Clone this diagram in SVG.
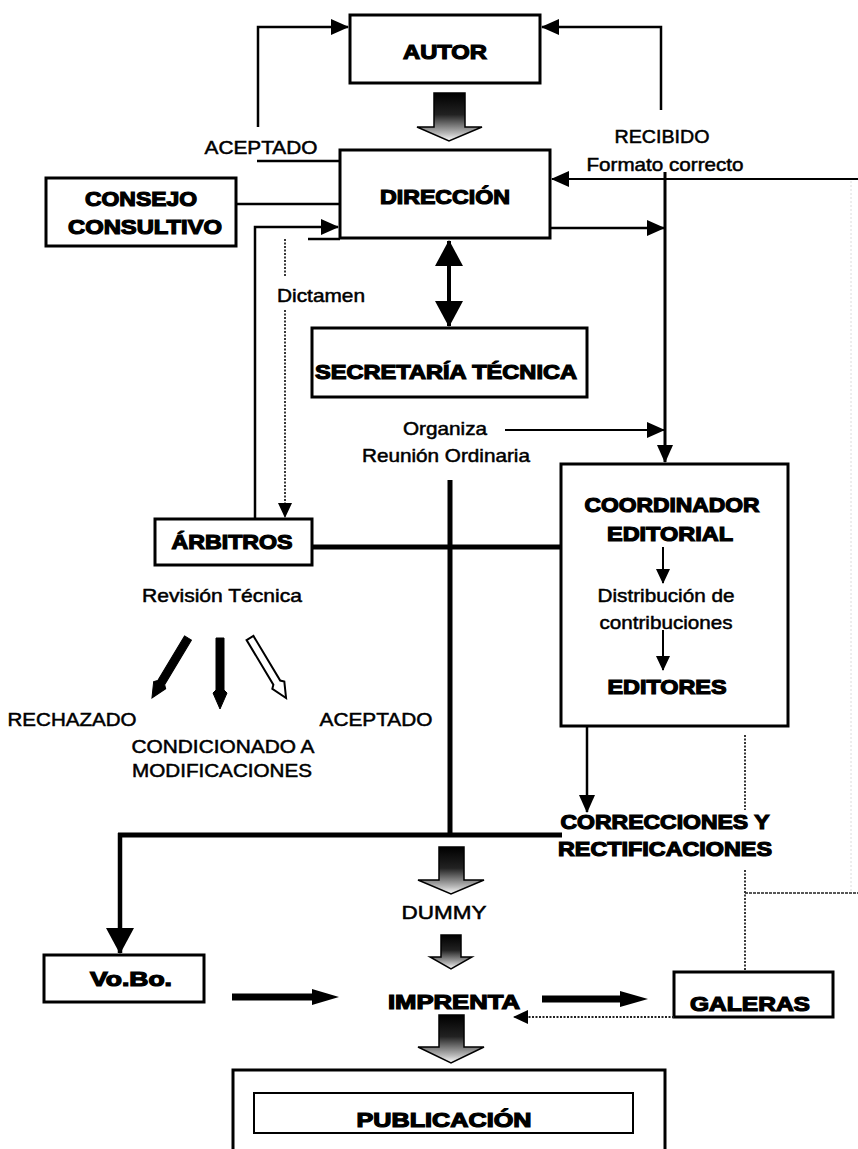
<svg xmlns="http://www.w3.org/2000/svg" width="858" height="1149" viewBox="0 0 858 1149">
<style>
.box{fill:#fff;stroke:#000;stroke-width:3}
.hb{font-family:"Liberation Sans",Arial,sans-serif;font-weight:bold;font-size:20px;fill:#000;stroke:#000;stroke-width:1.2;text-anchor:middle}
.tr{font-family:"Liberation Sans",Arial,sans-serif;font-size:18.5px;fill:#000;stroke:#000;stroke-width:0.5;text-anchor:middle}
.ln{fill:none;stroke:#000;stroke-width:2.5}
.thk{fill:none;stroke:#000;stroke-width:5}
.dot{fill:none;stroke:#222;stroke-width:1.8;stroke-dasharray:2 1.5}
.blk{stroke:#000;stroke-width:1.5;fill:url(#grad)}
</style>
<defs>
<linearGradient id="grad" x1="0" y1="0" x2="0" y2="1">
<stop offset="0" stop-color="#000"/>
<stop offset="0.45" stop-color="#222"/>
<stop offset="0.85" stop-color="#bbb"/>
<stop offset="1" stop-color="#fff"/>
</linearGradient>
<marker id="ah" markerUnits="userSpaceOnUse" viewBox="0 0 18 16" markerWidth="18" markerHeight="16" refX="17" refY="8" orient="auto"><path d="M0,0 L18,8 L0,16 z" fill="#000"/></marker>
<marker id="ahs" markerUnits="userSpaceOnUse" viewBox="0 0 15 14" markerWidth="15" markerHeight="14" refX="14" refY="7" orient="auto"><path d="M0,0 L15,7 L0,14 z" fill="#000"/></marker>
<marker id="ahb" markerUnits="userSpaceOnUse" viewBox="0 0 26 28" markerWidth="26" markerHeight="28" refX="25" refY="14" orient="auto-start-reverse"><path d="M0,0 L26,14 L0,28 z" fill="#000"/></marker>
</defs>
<rect width="858" height="1149" fill="#fff"/>

<g id="autor">
  <rect class="box" x="350" y="15" width="190" height="68"/>
  <text class="hb" x="445" y="59" textLength="84" lengthAdjust="spacingAndGlyphs">AUTOR</text>
</g>
<g id="direccion">
  <rect class="box" x="340" y="150" width="210" height="88"/>
  <text class="hb" x="445" y="204" textLength="130" lengthAdjust="spacingAndGlyphs">DIRECCIÓN</text>
</g>
<g id="consejo">
  <rect class="box" x="46" y="178" width="190" height="68"/>
  <text class="hb" x="141" y="206" textLength="112" lengthAdjust="spacingAndGlyphs">CONSEJO</text>
  <text class="hb" x="145" y="234" textLength="154" lengthAdjust="spacingAndGlyphs">CONSULTIVO</text>
</g>
<g id="secretaria">
  <rect class="box" x="312" y="328" width="275" height="69"/>
  <text class="hb" x="446" y="379" textLength="262" lengthAdjust="spacingAndGlyphs">SECRETARÍA TÉCNICA</text>
</g>
<g id="arbitros">
  <rect class="box" x="155" y="519" width="157" height="46"/>
  <text class="hb" x="232" y="549" textLength="121" lengthAdjust="spacingAndGlyphs">ÁRBITROS</text>
</g>
<g id="coordinador">
  <rect class="box" x="561" y="464" width="227" height="262"/>
  <text class="hb" x="672" y="512" textLength="175" lengthAdjust="spacingAndGlyphs">COORDINADOR</text>
  <text class="hb" x="670" y="541" textLength="126" lengthAdjust="spacingAndGlyphs">EDITORIAL</text>
  <text class="tr" x="666" y="602" textLength="137" lengthAdjust="spacingAndGlyphs">Distribución de</text>
  <text class="tr" x="666" y="629" textLength="133" lengthAdjust="spacingAndGlyphs">contribuciones</text>
  <text class="hb" x="667" y="694" textLength="119" lengthAdjust="spacingAndGlyphs">EDITORES</text>
</g>
<g id="correcciones">
  <text class="hb" x="665" y="829" textLength="209" lengthAdjust="spacingAndGlyphs">CORRECCIONES Y</text>
  <text class="hb" x="665" y="856" textLength="214" lengthAdjust="spacingAndGlyphs">RECTIFICACIONES</text>
</g>
<g id="vobo">
  <rect class="box" x="44" y="955" width="160" height="47"/>
  <text class="hb" x="131" y="986" textLength="82" lengthAdjust="spacingAndGlyphs">Vo.Bo.</text>
</g>
<g id="dummy">
  <text class="tr" x="444" y="919" textLength="85" lengthAdjust="spacingAndGlyphs">DUMMY</text>
</g>
<g id="imprenta">
  <text class="hb" x="454" y="1009" textLength="132" lengthAdjust="spacingAndGlyphs">IMPRENTA</text>
</g>
<g id="galeras">
  <rect class="box" x="674" y="972" width="159" height="45"/>
  <text class="hb" x="750" y="1011" textLength="120" lengthAdjust="spacingAndGlyphs">GALERAS</text>
</g>
<g id="publicacion">
  <rect class="box" x="233" y="1070" width="432" height="90"/>
  <rect fill="#fff" stroke="#000" stroke-width="2" x="254" y="1093" width="379" height="40"/>
  <text class="hb" x="444" y="1127" textLength="175" lengthAdjust="spacingAndGlyphs">PUBLICACIÓN</text>
</g>
<g id="labels">
  <text class="tr" x="261" y="154" textLength="113" lengthAdjust="spacingAndGlyphs">ACEPTADO</text>
  <text class="tr" x="662" y="143" textLength="95" lengthAdjust="spacingAndGlyphs">RECIBIDO</text>
  <text class="tr" x="665" y="171" textLength="157" lengthAdjust="spacingAndGlyphs">Formato correcto</text>
  <text class="tr" x="321" y="302" textLength="88" lengthAdjust="spacingAndGlyphs">Dictamen</text>
  <text class="tr" x="445" y="435" textLength="84" lengthAdjust="spacingAndGlyphs">Organiza</text>
  <text class="tr" x="446" y="462" textLength="168" lengthAdjust="spacingAndGlyphs">Reunión Ordinaria</text>
  <text class="tr" x="222" y="602" textLength="160" lengthAdjust="spacingAndGlyphs">Revisión Técnica</text>
  <text class="tr" x="72" y="726" textLength="129" lengthAdjust="spacingAndGlyphs">RECHAZADO</text>
  <text class="tr" x="223" y="753" textLength="183" lengthAdjust="spacingAndGlyphs">CONDICIONADO A</text>
  <text class="tr" x="222" y="777" textLength="180" lengthAdjust="spacingAndGlyphs">MODIFICACIONES</text>
  <text class="tr" x="376" y="726" textLength="113" lengthAdjust="spacingAndGlyphs">ACEPTADO</text>
</g>

<g id="connectors">
  <path class="ln" d="M258,127 V27 H348" marker-end="url(#ah)"/>
  <path class="ln" d="M661,110 V27 H542" marker-end="url(#ah)"/>
  <path class="blk" d="M434,93 H465 V127 H482 L449,141 L417,127 H434 Z"/>
  <path class="ln" d="M257,161 H340"/>
  <path class="ln" d="M236,204 H340"/>
  <path class="ln" d="M308,239 H340"/>
  <path class="ln" d="M255,519 V227 H338" marker-end="url(#ah)"/>
  <path class="dot" d="M285,239 V277"/>
  <path class="dot" d="M285,310 V517" marker-end="url(#ahs)"/>
  <path fill="none" stroke="#000" stroke-width="1.8" d="M858,179 H552" marker-end="url(#ah)"/>
  <path fill="none" stroke="#dcdcdc" stroke-width="1" stroke-dasharray="2 2" d="M851,181 V891"/>
  <path class="ln" d="M550,228 H664" marker-end="url(#ah)"/>
  <path fill="none" stroke="#000" stroke-width="3" d="M665,172 V462" marker-end="url(#ah)"/>
  <path fill="none" stroke="#000" stroke-width="2" d="M505,430 H664" marker-end="url(#ah)"/>
  <path fill="none" stroke="#000" stroke-width="4" d="M449,241 V326" marker-start="url(#ahb)" marker-end="url(#ahb)"/>
  <path class="thk" d="M450,480 V837"/>
  <path class="thk" d="M312,547 H561"/>
  <path class="thk" d="M118,835 H562"/>
  <path fill="none" stroke="#000" stroke-width="4.5" d="M120,833 V953" marker-end="url(#ahb)"/>
  <path class="ln" d="M587,726 V812" marker-end="url(#ah)"/>
  <path fill="none" stroke="#000" stroke-width="2" d="M663,547 V583" marker-end="url(#ahs)"/>
  <path fill="none" stroke="#000" stroke-width="2" d="M663,630 V670" marker-end="url(#ahs)"/>
  <path class="dot" d="M745,735 V810"/>
  <path class="dot" d="M745,870 V971"/>
  <path fill="none" stroke="#222" stroke-width="1.6" stroke-dasharray="3 1" d="M745,893 H858"/>
  <path fill="#000" stroke="#000" stroke-width="1" transform="translate(188,638) rotate(31)" d="M-4,0 H4 V52 L7,55 L0,70 L-7,55 L-4,52 Z"/>
  <path fill="#000" stroke="#000" stroke-width="1" transform="translate(220,638)" d="M-4,0 H4 V52 L7,55 L0,71 L-7,55 L-4,52 Z"/>
  <path fill="#fff" stroke="#000" stroke-width="2" transform="translate(250,638) rotate(-31)" d="M-4,0 H4 V52 L7,55 L0,70 L-7,55 L-4,52 Z"/>
  <path class="blk" d="M439,847 H464 V880 H484 L451,894 L418,880 H439 Z"/>
  <path class="blk" d="M441,935 H461 V957 H472 L451,969 L430,957 H441 Z"/>
  <path class="blk" d="M439,1015 H464 V1047 H484 L451,1063 L418,1047 H439 Z"/>
  <path fill="#000" d="M232,993.5 H312 V989 L339,997 L312,1005 V1000.5 H232 Z"/>
  <path fill="#000" d="M542,995.5 H620 V991 L648,999 L620,1007 V1002.5 H542 Z"/>
  <path class="dot" d="M674,1017 H514" marker-end="url(#ahs)"/>
</g>
</svg>
